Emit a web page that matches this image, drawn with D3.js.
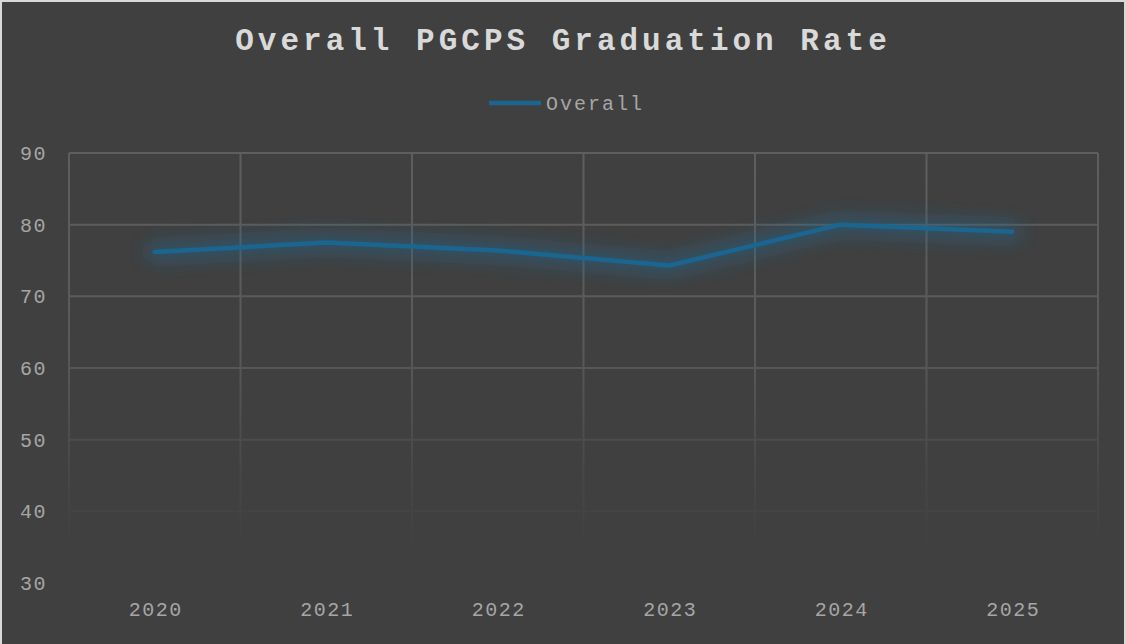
<!DOCTYPE html>
<html>
<head>
<meta charset="utf-8">
<script src="https://cdn.jsdelivr.net/npm/d3@7"></script>
<style>
  html, body { margin: 0; padding: 0; background: #404040; }
  svg { display: block; }
</style>
</head>
<body>
<div id="vis"></div>
<script>
// chart values
const years = ["2020", "2021", "2022", "2023", "2024", "2025"];
const overall = [76.2, 77.5, 76.4, 74.3, 80.0, 79.0];
const yTicks = [30, 40, 50, 60, 70, 80, 90];
const seriesName = "Overall";
const title = "Overall PGCPS Graduation Rate";

const width = 1126, height = 644;
const margin = { top: 153, right: 28, bottom: 61, left: 69 };

const svg = d3.select("#vis").append("svg")
  .attr("width", width)
  .attr("height", height);

// background + thin light frame
svg.append("rect").attr("width", width).attr("height", height).attr("fill", "#404040");
svg.append("path")
  .attr("d", `M1,${height} V1 H${width - 1} V${height}`)
  .attr("fill", "none").attr("stroke", "#d9d9d9").attr("stroke-width", 2);

const x = d3.scaleBand()
  .domain(years)
  .range([margin.left, width - margin.right]);

const y = d3.scaleLinear()
  .domain([30, 90])
  .range([height - margin.bottom, margin.top]);

const defs = svg.append("defs");

// grid fades toward the bottom
const fade = defs.append("linearGradient")
  .attr("id", "fade")
  .attr("gradientUnits", "userSpaceOnUse")
  .attr("x1", 0).attr("x2", 0)
  .attr("y1", y(90)).attr("y2", y(30));
fade.append("stop").attr("offset", "0%").attr("stop-color", "#5e5e5e");
fade.append("stop").attr("offset", "45%").attr("stop-color", "#5a5a5a");
fade.append("stop").attr("offset", "75%").attr("stop-color", "#474747");
fade.append("stop").attr("offset", "92%").attr("stop-color", "#404040");

const glow = defs.append("filter")
  .attr("id", "glow")
  .attr("x", "-20%").attr("y", "-300%")
  .attr("width", "140%").attr("height", "700%");
glow.append("feGaussianBlur").attr("in", "SourceGraphic").attr("stdDeviation", 9);

// horizontal grid
const grid = svg.append("g").attr("stroke", "url(#fade)").attr("stroke-width", 2).attr("fill", "none");
grid.selectAll(".h")
  .data(yTicks.filter(d => d > 30))
  .join("line")
  .attr("x1", margin.left).attr("x2", width - margin.right)
  .attr("y1", d => y(d)).attr("y2", d => y(d));

// vertical grid at band edges
const edges = years.map(d => x(d)).concat([x(years[years.length - 1]) + x.bandwidth()]);
grid.selectAll(".v")
  .data(edges)
  .join("path")
  .attr("d", d => `M${d},${y(90)} L${d + 0.01},${y(30)}`);

// y axis labels
const axisFont = "'Liberation Mono', 'Courier New', monospace";
svg.append("g")
  .selectAll("text")
  .data(yTicks)
  .join("text")
  .attr("x", 47)
  .attr("y", d => y(d))
  .attr("dy", "0.35em")
  .attr("text-anchor", "end")
  .attr("fill", "#a6a6a6")
  .style("font", `20px ${axisFont}`)
  .style("letter-spacing", "1.5px")
  .text(d => d);

// x axis labels
svg.append("g")
  .selectAll("text")
  .data(years)
  .join("text")
  .attr("x", d => x(d) + x.bandwidth() / 2 + 1)
  .attr("y", 616)
  .attr("text-anchor", "middle")
  .attr("fill", "#a6a6a6")
  .style("font", `20px ${axisFont}`)
  .style("letter-spacing", "1.5px")
  .text(d => d);

// line with glow
const line = d3.line()
  .x((d, i) => x(years[i]) + x.bandwidth() / 2)
  .y(d => y(d));

svg.append("path")
  .datum(overall)
  .attr("d", line)
  .attr("fill", "none")
  .attr("stroke", "#1f6a93")
  .attr("stroke-opacity", 0.5)
  .attr("stroke-width", 18)
  .attr("stroke-linecap", "round")
  .attr("stroke-linejoin", "round")
  .attr("filter", "url(#glow)");

svg.append("path")
  .datum(overall)
  .attr("d", line)
  .attr("fill", "none")
  .attr("stroke", "#1b6591")
  .attr("stroke-width", 4.5)
  .attr("stroke-linecap", "round")
  .attr("stroke-linejoin", "round");

// title
svg.append("text")
  .attr("x", width / 2)
  .attr("y", 50)
  .attr("text-anchor", "middle")
  .attr("fill", "#d9d9d9")
  .style("font", `bold 31px ${axisFont}`)
  .style("letter-spacing", "4px")
  .text(title);

// legend
const legend = svg.append("g");
legend.append("line")
  .attr("x1", 489).attr("x2", 541)
  .attr("y1", 103).attr("y2", 103)
  .attr("stroke", "#1b6591").attr("stroke-width", 4.5);
legend.append("text")
  .attr("x", 546)
  .attr("y", 103)
  .attr("dy", "0.35em")
  .attr("fill", "#a6a6a6")
  .style("font", `20px ${axisFont}`)
  .style("letter-spacing", "2px")
  .text(seriesName);
</script>
</body>
</html>
